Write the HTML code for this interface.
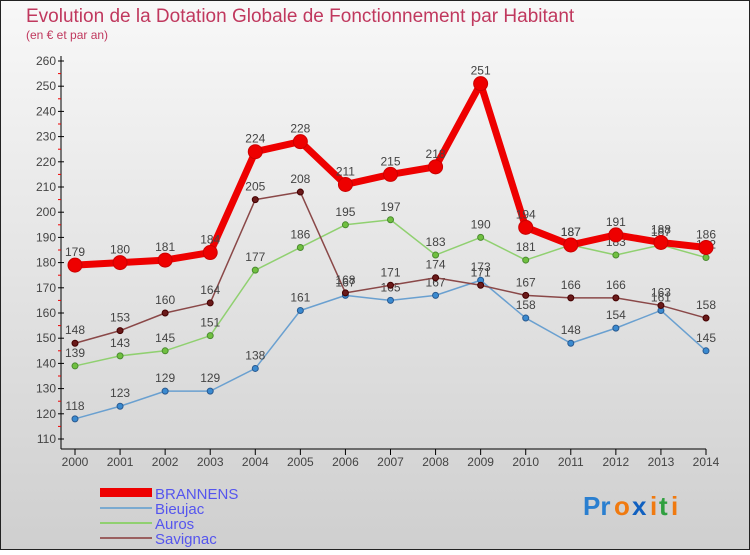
<!DOCTYPE html>
<html><head><meta charset="utf-8"><style>
body{margin:0;width:750px;height:550px;overflow:hidden;font-family:"Liberation Sans",sans-serif}
svg text{font-family:"Liberation Sans",sans-serif}
</style></head><body>
<svg id="c" width="750" height="550" xmlns="http://www.w3.org/2000/svg">
<defs><linearGradient id="bg" x1="0" y1="0" x2="0" y2="1"><stop offset="0" stop-color="#f8f8f8"/><stop offset="1" stop-color="#cfcfcf"/></linearGradient></defs>
<rect x="0.5" y="0.5" width="749" height="549" fill="url(#bg)" stroke="#222"/>
<text x="26" y="22" font-size="19" fill="#c0385e">Evolution de la Dotation Globale de Fonctionnement par Habitant</text>
<text x="26" y="39" font-size="12" fill="#c0385e">(en € et par an)</text>
<g id="axes"></g><g id="series"></g>
<g>
<rect x="100" y="488" width="52" height="9" fill="#e00"/>
<text x="155" y="499" font-size="15" fill="#5555ee">BRANNENS</text>
<line x1="100" y1="508" x2="152" y2="508" stroke="#7aaad0" stroke-width="2"/>
<text x="155" y="514" font-size="15" fill="#5555ee">Bieujac</text>
<line x1="100" y1="523" x2="152" y2="523" stroke="#90d070" stroke-width="2"/>
<text x="155" y="529" font-size="15" fill="#5555ee">Auros</text>
<line x1="100" y1="538" x2="152" y2="538" stroke="#9a6060" stroke-width="2"/>
<text x="155" y="544" font-size="15" fill="#5555ee">Savignac</text>
</g>
<g font-size="26" font-weight="bold">
<text x="583" y="515" fill="#2a7fd0">Pr</text><text x="614" y="515" fill="#f07a10">o</text><text x="632" y="515" fill="#1060c0">x</text><text x="650" y="515" fill="#f07a10">i</text><text x="659" y="515" fill="#30a040">t</text><text x="671" y="515" fill="#f07a10">i</text>
</g>
</svg>
<script>
const years=[2000,2001,2002,2003,2004,2005,2006,2007,2008,2009,2010,2011,2012,2013,2014];
const brannens=[179,180,181,184,224,228,211,215,218,251,194,187,191,188,186];
const bieujac=[118,123,129,129,138,161,167,165,167,173,158,148,154,161,145];
const auros=[139,143,145,151,177,186,195,197,183,190,181,187,183,187,182];
const savignac=[148,153,160,164,205,208,168,171,174,171,167,166,166,163,158];
const yTicks=[110,120,130,140,150,160,170,180,190,200,210,220,230,240,250,260];
const NS="http://www.w3.org/2000/svg";
const X=i=>75+i*(706-75)/(years.length-1);
const Y=v=>439-(v-110)*(439-61)/150;
function mk(t,a,p){const e=document.createElementNS(NS,t);for(const k in a)e.setAttribute(k,a[k]);p.appendChild(e);return e;}
const ax=document.getElementById('axes'),sg=document.getElementById('series');
let yl=mk('line',{x1:61,y1:56,x2:61,y2:449,stroke:'#000'},ax);


let xl=mk('line',{x1:61,y1:449,x2:706,y2:449,stroke:'#000'},ax);


yTicks.forEach(v=>{mk('line',{x1:58,y1:Y(v),x2:64,y2:Y(v),stroke:'#000'},ax);
 if(v<260)mk('line',{x1:58,y1:Y(v+5),x2:61,y2:Y(v+5),stroke:'#e00'},ax);
 const t=mk('text',{x:56,y:Y(v)+4,'font-size':12,fill:'#444','text-anchor':'end'},ax);t.textContent=v;
 
 });
years.forEach((y,i)=>{mk('line',{x1:X(i),y1:449,x2:X(i),y2:455,stroke:'#000'},ax);
 const t=mk('text',{x:X(i),y:466,'font-size':12,fill:'#444','text-anchor':'middle'},ax);t.textContent=y;
 
 });
function draw(arr,name,col,dot,w,r,dotStroke){
 const g=mk('g',{},sg);
 
 
 mk('polyline',{points:arr.map((v,i)=>X(i)+','+Y(v)).join(' '),fill:'none',stroke:col,'stroke-width':w,'stroke-linejoin':'round'},g);
 arr.forEach((v,i)=>{const c=mk('circle',{cx:X(i),cy:Y(v),r:r,fill:dot,stroke:dotStroke,'stroke-width':1},g);
  
  
  const t=mk('text',{x:X(i),y:Y(v)-9,'font-size':12,fill:'#444','text-anchor':'middle'},g);t.textContent=v;});
}
draw(bieujac,'bieujac','#6aa0d0','#3a8ad0',1.5,3,'#2a5a90');
draw(auros,'auros','#90d070','#70c040',1.5,3,'#4a8a30');
draw(savignac,'savignac','#8a4848','#6a1a1a',1.5,3,'#400');
draw(brannens,'brannens','#e00','#e00',7,7,'#c00');
</script>
</body></html>
